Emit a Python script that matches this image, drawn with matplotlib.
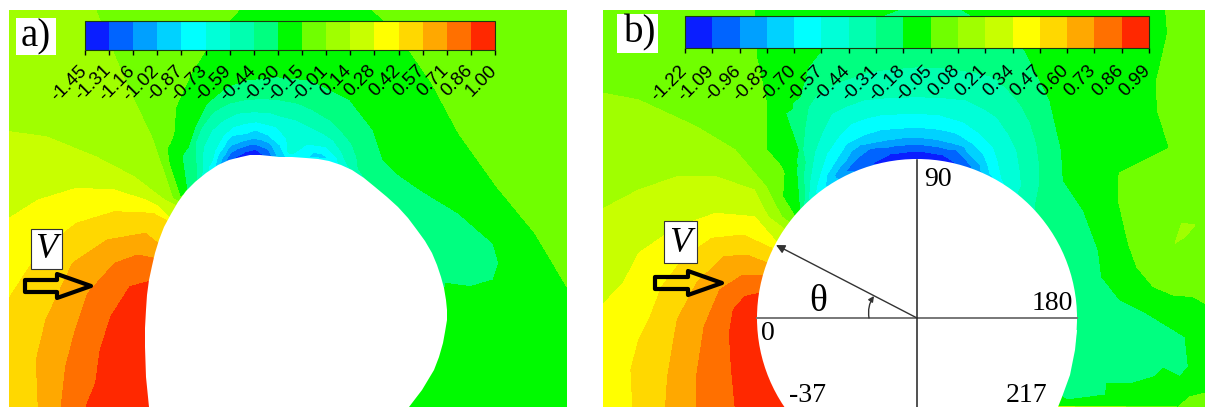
import numpy as np
import matplotlib
matplotlib.use('Agg')
import matplotlib.pyplot as plt
from matplotlib.colors import ListedColormap, BoundaryNorm
from matplotlib.cm import ScalarMappable
from matplotlib.patches import Polygon, Rectangle, Ellipse


def crop(x0, y0, fx, fy, pts):
    # points were read on zoomed crops of the picture, bring them to pixels
    return [(x0 + p[0] / fx, y0 + p[1] / fy) + tuple(p[2:]) for p in pts]


def z1(pts):
    return crop(0, 0, 2.616, 3, pts)


def z6(pts):
    return crop(170, 70, 3, 3, pts)


def z2(pts):
    return crop(600, 0, 2.59, 3, pts)


def z5(pts):
    return crop(780, 50, 3, 3, pts)


def z7(pts):
    return crop(1050, 180, 3, 3, pts)


band_colors = ['#0A1EFF', '#0064FF', '#00A0FF', '#00D2FF', '#00FFFF', '#00FFD8',
               '#00FFB0', '#00FF80', '#00FA00', '#70FF00', '#A0FF00', '#C8FF00',
               '#FFFF00', '#FFD800', '#FFA800', '#FF7000', '#FF2800']

levels_a = [-1.45, -1.31, -1.16, -1.02, -0.87, -0.73, -0.59, -0.44, -0.30,
            -0.15, -0.01, 0.14, 0.28, 0.42, 0.57, 0.71, 0.86, 1.00]
levels_b = [-1.22, -1.09, -0.96, -0.83, -0.70, -0.57, -0.44, -0.31, -0.18,
            -0.05, 0.08, 0.21, 0.34, 0.47, 0.60, 0.73, 0.86, 0.99]

# panel a: points read on the band edges, the number is the band edge
a_l16 = z1([(225, 1220), (250, 1150), (262, 1050), (290, 950), (340, 860), (388, 845)])
a_l15 = z1([(160, 1220), (172, 1100), (195, 1000), (230, 880), (300, 790), (360, 765), (403, 775)])
a_l14 = z1([(100, 1220), (95, 1080), (120, 960), (190, 790), (280, 720), (380, 700), (418, 735)])
a_l13 = z1([(24, 895), (100, 760), (200, 670), (300, 635), (400, 640), (440, 665)])
a_l12 = z1([(24, 655), (100, 600), (200, 565), (300, 570), (380, 600), (445, 655)])
a_l11 = z1([(24, 395), (120, 410), (250, 470), (350, 530), (430, 600), (465, 620)])
a_l10 = z1([(250, 30), (330, 250), (400, 420), (470, 590)])
a_l9 = z1([(625, 30), (560, 110), (500, 220), (460, 320), (455, 400), (470, 590), (975, 30),
           (1040, 100), (1130, 250), (1200, 400), (1300, 560), (1400, 700), (1483, 860)])
a_l8 = z6([(50, 360), (55, 230), (75, 170), (110, 100), (170, 50), (230, 30), (320, 20), (420, 30), (540, 90),
           (610, 180), (640, 270), (680, 310)]) + \
    z1([(1100, 570), (1200, 640), (1290, 730), (1305, 790), (1290, 840), (1230, 860), (1165, 850)])
a_l7 = z6([(80, 345), (78, 280), (75, 220), (95, 170), (130, 125), (175, 100), (220, 90), (275, 85), (330, 90),
           (385, 100), (430, 120), (480, 150), (520, 190), (545, 220), (560, 260), (565, 295)])
a_l6 = z6([(95, 335), (97, 280), (100, 230), (125, 180), (160, 150), (200, 130), (250, 125), (300, 128),
           (340, 140), (380, 150), (420, 170), (460, 190), (490, 210), (515, 245), (530, 280)])
a_l5 = z6([(118, 315), (125, 275), (135, 240), (160, 195), (190, 170), (225, 160), (260, 155), (320, 170),
           (350, 205), (410, 222), (470, 230), (505, 268)])
a_l4 = z6([(135, 298), (165, 225), (230, 190), (295, 195), (330, 225), (345, 258),
           (415, 262), (430, 248), (455, 250), (475, 266)])
a_l3 = z6([(150, 287), (185, 225), (250, 205), (305, 225), (322, 258)])
a_l2 = z6([(165, 278), (205, 235), (255, 222), (295, 238), (305, 258)])
a_l1 = z6([(185, 267), (225, 246), (258, 238), (282, 256)])

# panel a: loose samples, x, y, value in band units
a_samples = z1([(24, 30, 10.5), (24, 1220, 13.5), (1483, 30, 9.5), (1483, 1220, 8.5), (120, 200, 10.5),
                (420, 30, 9.5), (800, 30, 8.5), (1200, 30, 9.5), (1300, 100, 9.5), (1400, 400, 9.5),
                (1050, 300, 8.5), (1100, 500, 8.5), (1400, 1000, 8.5), (1250, 1100, 8.5),
                (1200, 720, 7.5), (1100, 650, 7.5), (1250, 780, 7.5), (1000, 480, 7.5),
                (390, 1220, 16.8), (383, 1130, 16.9), (380, 1040, 16.9), (382, 930, 16.8),
                (980, 560, 7.5), (1040, 620, 7.5), (1090, 690, 7.5), (1130, 760, 7.5), (1155, 830, 7.5),
                (1170, 960, 8.5), (1160, 1030, 8.5), (1135, 1110, 8.5), (1105, 1170, 8.5), (1070, 1220, 8.5)]) + \
    z6([(240, 252, 0.3), (380, 262, 4.5), (360, 246, 5.3), (445, 260, 3.5), (620, 340, 7.5)])

# outline of the body in panel a, pixels
body_a_x = [149, 146, 145, 145, 146, 147, 149, 152, 155, 159, 164, 171, 178, 186, 195, 206, 218, 229, 241, 250, 260,
            270, 279, 292, 306, 318, 329, 341, 352, 364, 375, 387, 398, 408, 417, 425, 432, 437, 441, 444, 446, 447,
            447, 445, 443, 439, 434, 428, 422, 409]
body_a_y = [407, 377, 347, 328, 310, 295, 280, 266, 253, 240, 227, 214, 202, 191, 182, 173, 165, 160, 157, 155, 155,
            156, 157, 157, 158, 159, 161, 165, 170, 178, 187, 197, 207, 218, 230, 241, 253, 265, 277, 288, 300, 310,
            320, 332, 343, 357, 370, 380, 390, 407]

# lower right part of the body in panel b, wider than the circle
body_b_x = [1077, 1075, 1070, 1062, 1058, 1040, 1040]
body_b_y = [330, 350, 375, 397, 407, 407, 330]

# panel b
b_l16 = z2([(350, 1220), (340, 1100), (335, 1000), (345, 930), (375, 890), (412, 880)])
b_l15 = z2([(250, 1220), (250, 1130), (270, 980), (310, 870), (370, 825), (420, 825)])
b_l14 = z2([(170, 1220), (175, 1130), (200, 960), (250, 850), (320, 770), (380, 765), (435, 790)])
b_l13 = z2([(85, 1220), (80, 1110), (100, 1020), (130, 950), (160, 860), (220, 770), (290, 715),
            (370, 705), (445, 745)])
b_l12 = z2([(10, 910), (60, 850), (100, 760), (200, 680), (300, 640), (400, 650), (460, 730)])
b_l11 = z2([(10, 625), (100, 570), (200, 530), (300, 530), (400, 570), (475, 685)])
b_l10 = z2([(10, 280), (100, 300), (250, 380), (350, 450), (430, 560), (505, 650)]) + \
    z7([(375, 190), (395, 130), (435, 135), (405, 170)])
b_l9 = z2([(400, 30), (405, 170), (430, 300), (470, 500), (505, 650), (1465, 30), (1470, 100),
           (1440, 250), (1380, 400), (1345, 520)]) + \
    z7([(205, 0), (205, 60), (235, 190), (260, 260), (310, 320), (370, 345), (430, 350), (465, 370),
        (385, 681), (420, 650), (465, 640)])
b_l8 = z5([(58, 470), (55, 300), (60, 140), (85, 50), (125, 0)]) + \
    z2([(770, 30), (940, 30), (1100, 150), (1165, 300), (1195, 450)]) + \
    z7([(40, 0), (100, 90), (145, 210), (155, 290), (210, 360), (290, 400), (405, 470), (415, 560),
        (390, 590), (240, 612), (170, 610), (50, 660), (35, 650)])
b_l7 = z5([(70, 470), (68, 300), (75, 230), (85, 170), (105, 140), (130, 120), (180, 95), (250, 70), (320, 58),
           (415, 50), (510, 55), (590, 68), (640, 80), (680, 115), (720, 160), (750, 215), (770, 280), (778, 340),
           (780, 400), (765, 470)])
b_l6 = z5([(85, 450), (90, 390), (100, 330), (125, 250), (155, 190), (195, 170), (250, 150), (320, 143), (415, 140),
           (490, 143), (560, 150), (610, 175), (650, 200), (685, 250), (710, 300), (720, 360), (725, 410)])
b_l5 = z5([(105, 430), (120, 370), (140, 310), (175, 260), (215, 220), (255, 205), (300, 195), (350, 192), (415, 190),
           (480, 195), (550, 215), (600, 250), (640, 290), (655, 335), (665, 385)])
b_l4 = z5([(138, 395), (165, 335), (200, 280), (250, 255), (300, 240), (350, 235), (415, 232), (480, 238), (530, 250),
           (575, 278), (610, 310), (622, 340), (630, 370)])
b_l3 = z5([(160, 380), (195, 335), (240, 285), (275, 278), (320, 270), (365, 264), (415, 262), (470, 268), (520, 280),
           (565, 310), (600, 345)])
b_l2 = z5([(195, 365), (230, 325), (270, 295), (340, 288), (415, 283), (475, 290), (530, 300), (555, 325), (575, 350)])
b_l1 = z5([(268, 345), (330, 312), (415, 303), (490, 315), (530, 340)])

b_samples = z2([(10, 30, 9.5), (10, 1220, 12.5), (1568, 30, 9.5), (1568, 1220, 9.5), (200, 30, 9.5),
                (600, 30, 8.5), (1200, 30, 8.5), (100, 100, 9.5), (300, 150, 9.5), (200, 400, 10.5),
                (450, 150, 8.5), (480, 300, 8.5), (500, 500, 8.5), (1250, 100, 8.5), (1250, 400, 8.5),
                (1300, 650, 8.5), (1568, 500, 9.5), (1450, 700, 9.5), (1400, 400, 8.6), (1500, 250, 9.5),
                (470, 1220, 16.8), (430, 1100, 16.9), (408, 955, 16.7), (1190, 1220, 8.5), (1350, 1220, 8.5),
                (1450, 1150, 8.5), (1568, 1050, 8.5)]) + \
    z5([(415, 318, 0.3)]) + \
    z7([(410, 150, 10.3), (250, 500, 7.5), (150, 500, 7.5), (120, 250, 7.5), (60, 100, 7.5), (350, 520, 7.5),
        (200, 580, 7.5), (78, 450, 7.5), (60, 300, 7.5), (50, 600, 7.5), (450, 500, 8.5), (450, 620, 8.5),
        (280, 470, 7.5), (200, 420, 7.5), (340, 490, 7.5), (120, 610, 7.5), (300, 570, 7.5)])

ticks_a = ['-1.45', '-1.31', '-1.16', '-1.02', '-0.87', '-0.73', '-0.59', '-0.44', '-0.30',
           '-0.15', '-0.01', '0.14', '0.28', '0.42', '0.57', '0.71', '0.86', '1.00']
ticks_b = ['-1.22', '-1.09', '-0.96', '-0.83', '-0.70', '-0.57', '-0.44', '-0.31', '-0.18',
           '-0.05', '0.08', '0.21', '0.34', '0.47', '0.60', '0.73', '0.86', '0.99']

W, H = 1205, 407


def collect(lines, samples, levels):
    seen = {}
    for lev, pts in lines:
        for x, y in pts:
            seen[(round(x, 1), round(y, 1))] = lev
    for x, y, v in samples:
        seen[(round(x, 1), round(y, 1))] = v
    xy = np.array(list(seen.keys()))
    val = np.interp(list(seen.values()), np.arange(18), levels)
    return xy[:, 0], xy[:, 1], val


def colorbar(levels, labels, x0, x1, y0, y1, label_y):
    cax = fig.add_axes([x0 / W, 1 - y1 / H, (x1 - x0) / W, (y1 - y0) / H])
    norm = BoundaryNorm(levels, 17)
    cb = fig.colorbar(ScalarMappable(norm=norm, cmap=cmap), cax=cax, orientation='horizontal',
                      ticks=levels, spacing='uniform')
    cb.outline.set_linewidth(0.8)
    cb.outline.set_edgecolor('#1a3a10')
    cax.set_xticklabels([])
    cax.tick_params(axis='x', length=3.5, width=1, bottom=True)
    for t, lab in zip(np.linspace(x0, x1, 18), labels):
        ax.text(t + 5, label_y, lab, rotation=45, ha='right', va='top',
                fontsize=13.5, family='Liberation Sans', color='black', zorder=10)


def block_arrow(tail, start, tip, yc, shaft, head):
    xs = [tail, start, start, tip, start, start, tail]
    ys = [yc - shaft, yc - shaft, yc - head, yc, yc + head, yc + shaft, yc + shaft]
    ax.add_patch(Polygon(list(zip(xs, ys)), closed=True, fill=False, edgecolor='black',
                         linewidth=3, joinstyle='round', zorder=6))


def vbox(x0, x1, y0, y1):
    ax.add_patch(Rectangle((x0, y0), x1 - x0, y1 - y0, facecolor='white', edgecolor='#333333',
                           linewidth=0.8, zorder=6))
    ax.text((x0 + x1) / 2, (y0 + y1) / 2 + 1, 'V', style='italic', fontsize=26, ha='center', va='center',
            family='Liberation Serif', zorder=7)


fig = plt.figure(figsize=(W / 100, H / 100), dpi=100)
ax = fig.add_axes([0, 0, 1, 1])
ax.set_xlim(0, W)
ax.set_ylim(H, 0)
ax.axis('off')

cmap = ListedColormap(band_colors)

lines_a = [(16, a_l16), (15, a_l15), (14, a_l14), (13, a_l13), (12, a_l12), (11, a_l11), (10, a_l10),
           (9, a_l9), (8, a_l8), (7, a_l7), (6, a_l6), (5, a_l5), (4, a_l4), (3, a_l3), (2, a_l2), (1, a_l1)]
lines_b = [(16, b_l16), (15, b_l15), (14, b_l14), (13, b_l13), (12, b_l12), (11, b_l11), (10, b_l10),
           (9, b_l9), (8, b_l8), (7, b_l7), (6, b_l6), (5, b_l5), (4, b_l4), (3, b_l3), (2, b_l2), (1, b_l1)]

xa, ya, va = collect(lines_a, a_samples, levels_a)
ax.tricontourf(xa, ya, va, levels=levels_a, colors=band_colors)
xb, yb, vb = collect(lines_b, b_samples, levels_b)
ax.tricontourf(xb, yb, vb, levels=levels_b, colors=band_colors)

# the bodies
ax.add_patch(Polygon(list(zip(body_a_x, body_a_y)), closed=True, facecolor='white', edgecolor='none', zorder=3))
ax.add_patch(Ellipse((917, 318), 320, 318, facecolor='white', edgecolor='none', zorder=3))
ax.add_patch(Polygon(list(zip(body_b_x, body_b_y)), closed=True, facecolor='white', edgecolor='none', zorder=3))

# lines in the section b
ax.plot([757, 1077], [318, 318], color='#777777', lw=1.4, zorder=4)
ax.plot([917, 917], [160, 407], color='#222222', lw=1.1, zorder=4)
ax.annotate('', xy=(776, 245), xytext=(917, 318), zorder=4,
            arrowprops=dict(arrowstyle='-|>', color='#333333', lw=1.0, mutation_scale=13, shrinkA=0, shrinkB=0))
ax.annotate('', xy=(874, 296), xytext=(869, 318), zorder=4,
            arrowprops=dict(arrowstyle='-|>', color='#333333', lw=1.0, mutation_scale=8, shrinkA=0, shrinkB=0,
                            connectionstyle='arc3,rad=-0.2'))

for txt, x, y in [('90', 938, 180), ('180', 1052, 304), ('0', 768, 333), ('-37', 808, 396), ('217', 1027, 396)]:
    ax.text(x, y, txt, fontsize=20, family='Liberation Serif', ha='center', va='center', zorder=5)
ax.text(818, 302, 'θ', fontsize=27, family='Liberation Serif', ha='center', va='center', zorder=5)

# a) and b) boxes
ax.add_patch(Rectangle((16, 18), 40, 37, facecolor='white', edgecolor='none', zorder=6))
ax.text(36, 37, 'a)', fontsize=28, family='Liberation Serif', ha='center', va='center', zorder=7)
ax.add_patch(Rectangle((617, 14), 41, 39, facecolor='white', edgecolor='none', zorder=6))
ax.text(640, 33, 'b)', fontsize=28, family='Liberation Serif', ha='center', va='center', zorder=7)

vbox(31, 62, 229, 269)
vbox(664, 697, 221, 263)
block_arrow(25, 57, 91, 286, 6, 12)
block_arrow(655, 688, 722, 283, 6, 12)

colorbar(levels_a, ticks_a, 85, 495, 21, 50, 62)
colorbar(levels_b, ticks_b, 685, 1149, 16, 48, 62)

fig.savefig('out.png', dpi=100)
